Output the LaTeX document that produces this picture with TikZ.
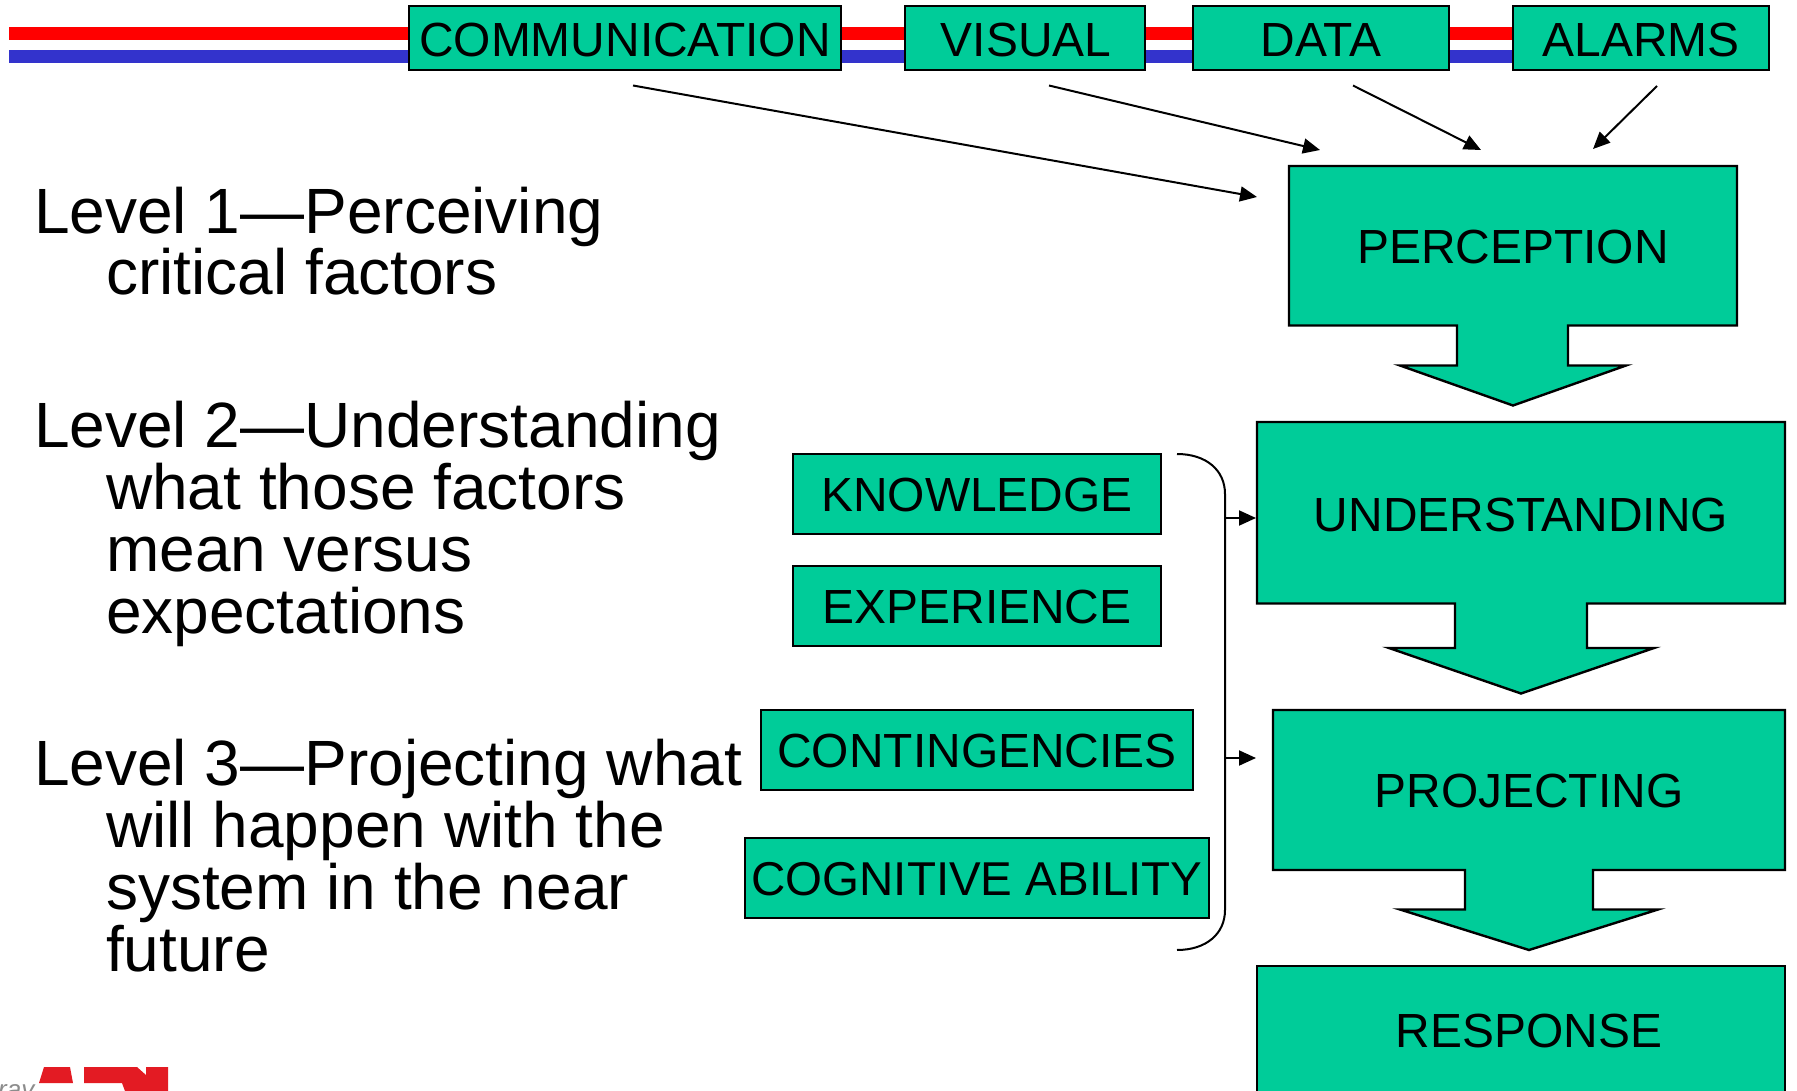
\documentclass[tikz,border=0pt]{standalone}
\usepackage{fontspec}
\setmainfont{Liberation Sans}
\usetikzlibrary{arrows.meta}
\definecolor{boxgreen}{HTML}{00CC99}
\definecolor{bandred}{HTML}{FF0000}
\definecolor{bandblue}{HTML}{3333CC}
\definecolor{logored}{HTML}{E31B23}
\tikzset{
  shapefill/.style={draw=black,fill=boxgreen,line width=2.4pt,line join=miter},
  lbl/.style={anchor=base,inner sep=0pt,font=\fontsize{47.9}{48}\selectfont},
  side/.style={anchor=base west,inner sep=0pt,align=left,font=\fontsize{64}{62}\selectfont},
  conn/.style={draw=black,line width=2pt,-{Triangle[length=17pt,width=15pt]}},
}
\newcommand{\ind}{\hspace*{72pt}}
\begin{document}
\begin{tikzpicture}[x=1pt,y=-1pt]
\useasboundingbox (0,0) rectangle (1797,1091);
\clip (0,0) rectangle (1797,1091);
% bands
\fill[bandred] (9,27.5) rectangle (1515,40.5);
\fill[bandblue] (9,50.5) rectangle (1515,63.5);
% top boxes
\draw[shapefill] (409,6) rectangle (841,70);
\draw[shapefill] (905,6) rectangle (1145,70);
\draw[shapefill] (1193,6) rectangle (1449,70);
\draw[shapefill] (1513,6) rectangle (1769,70);
\node[lbl] (comm) at (625,57) {COMMUNICATION};
\node[lbl] (visual) at (1026,57) {VISUAL};
\node[lbl] (data) at (1321,57) {DATA};
\node[lbl] (alarms) at (1641,57) {ALARMS};
% block arrows
\draw[shapefill] (1289,166)--(1737,166)--(1737,325.5)--(1568,325.5)--(1568,365.5)--(1626,365.5)--(1513,405.5)--(1400,365.5)--(1457,365.5)--(1457,325.5)--(1289,325.5)--cycle;
\draw[shapefill] (1257,422)--(1785,422)--(1785,603.5)--(1587,603.5)--(1587,648)--(1654,648)--(1521,693.5)--(1389,648)--(1455,648)--(1455,603.5)--(1257,603.5)--cycle;
\draw[shapefill] (1273,710)--(1785,710)--(1785,870)--(1593,870)--(1593,909.5)--(1658,909.5)--(1529,950)--(1400,909.5)--(1465,909.5)--(1465,870)--(1273,870)--cycle;
\draw[shapefill] (1257,1100)--(1257,966)--(1785,966)--(1785,1100);
\node[lbl] (perception) at (1513,264) {PERCEPTION};
\node[lbl] (understanding) at (1521,531) {UNDERSTANDING};
\node[lbl] (projecting) at (1529,807) {PROJECTING};
\node[lbl] (response) at (1529,1047) {RESPONSE};
% small boxes
\draw[shapefill] (793,454) rectangle (1161,534);
\draw[shapefill] (793,566) rectangle (1161,646);
\draw[shapefill] (761,710) rectangle (1193,790);
\draw[shapefill] (745,838) rectangle (1209,918);
\node[lbl] (knowledge) at (977,511) {KNOWLEDGE};
\node[lbl] (experience) at (977,623) {EXPERIENCE};
\node[lbl] (contingencies) at (977,767) {CONTINGENCIES};
\node[lbl] (cognitive) at (977,895) {\fontsize{47.5}{48}\selectfont COGNITIVE ABILITY};
% bracket
\coordinate (brtop) at (1177,454);
\coordinate (brbot) at (1177,950);
\coordinate (brup) at (1225,518);
\coordinate (brlo) at (1225,758);
\coordinate (upin) at (1256,518);
\coordinate (loin) at (1256,758);
\draw[line width=2pt] (brtop) .. controls (1206,454) and (1225,470) .. (1225,494) -- (1225,910) .. controls (1225,934) and (1206,950) .. (brbot);
\draw[conn] (brup) -- (upin);
\draw[conn] (brlo) -- (loin);
% arrows to perception
\coordinate (c1) at (633,85.5);
\coordinate (c2) at (1257,197);
\coordinate (v1) at (1049,85.5);
\coordinate (v2) at (1320,150);
\coordinate (d1) at (1353,85.5);
\coordinate (d2) at (1481,150);
\coordinate (a1) at (1657,86);
\coordinate (a2) at (1593,149);
\draw[conn] (c1) -- (c2);
\draw[conn] (v1) -- (v2);
\draw[conn] (d1) -- (d2);
\draw[conn] (a1) -- (a2);
% side text
\node[side] (lev1) at (34,295) {Level 1—Perceiving\\\ind critical factors};
\node[side] (lev2) at (34,633.5) {Level 2—Understanding\\\ind what those factors\\\ind mean versus\\\ind expectations};
\node[side] (lev3) at (34,971.5) {Level 3—Projecting what\\\ind will happen with the\\\ind system in the near\\\ind future};
% logo fragment
\fill[logored] (44,1067)--(70,1067)--(73,1083)--(39,1083)--cycle;
\fill[logored] (84,1067)--(137,1067)--(146,1075)--(146,1067)--(168,1067)--(168,1091)--(125,1091)--(122,1083)--(84,1083)--cycle;
\node[anchor=base west,inner sep=0pt,text=black!45,font=\fontsize{26}{26}\selectfont\itshape] (ray) at (-2,1098) {ray};
\end{tikzpicture}
\end{document}
